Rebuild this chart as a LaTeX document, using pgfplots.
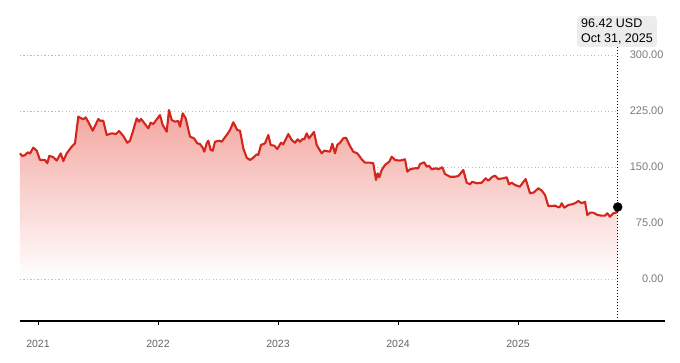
\documentclass[border=0pt]{standalone}
\usepackage{pgfplots}
\usepackage{pgfplotstable}
\pgfplotsset{compat=1.18}
\usepackage{fontspec}
\setmainfont{Liberation Sans}
\definecolor{linered}{RGB}{212,38,28}
\definecolor{filltop}{RGB}{243,166,160}
\definecolor{gridgray}{RGB}{185,185,185}
\definecolor{ticklab}{RGB}{100,100,100}
\definecolor{tipbg}{RGB}{236,236,236}
% x = months since Jan 2021
\pgfplotstableread{
x y
-1.80 168.3
-1.57 164.7
-1.30 166.0
-1.03 169.6
-0.80 168.0
-0.47 175.9
-0.13 171.9
0.20 159.4
0.70 159.4
0.93 155.0
1.13 165.0
1.53 163.0
1.87 158.5
2.27 168.3
2.53 158.0
2.87 168.3
3.37 177.2
3.70 181.7
4.03 217.4
4.53 213.8
4.77 216.5
5.10 208.5
5.47 198.6
5.70 204.9
6.03 214.3
6.20 212.0
6.53 212.0
6.87 192.9
7.37 195.1
7.80 194.2
8.10 198.2
8.53 191.5
8.93 182.5
9.20 185.2
9.53 199.5
9.87 215.2
10.10 210.7
10.30 214.3
10.70 207.6
11.03 201.8
11.27 209.3
11.53 207.6
11.77 212.0
12.20 219.6
12.47 206.2
12.87 197.3
13.10 226.3
13.37 212.9
13.70 210.7
14.03 211.6
14.20 204.0
14.47 221.9
14.77 215.2
15.20 190.6
15.60 188.4
15.93 181.7
16.20 180.8
16.47 175.9
16.63 170.5
16.87 181.7
17.03 185.2
17.27 172.8
17.47 171.9
17.70 183.9
18.10 185.2
18.37 183.9
18.87 192.9
19.20 199.5
19.53 209.9
19.93 199.5
20.20 198.6
20.53 175.0
20.87 162.5
21.20 159.4
21.53 162.5
21.87 167.0
22.03 166.1
22.30 179.5
22.70 181.7
23.03 192.9
23.27 179.5
23.63 178.5
23.93 174.1
24.30 182.5
24.53 180.4
25.03 194.2
25.37 186.2
25.70 182.5
25.97 187.1
26.20 183.9
26.47 187.5
26.63 187.1
26.87 195.1
27.10 188.4
27.60 196.9
27.87 179.5
28.37 168.3
28.63 171.9
29.20 170.5
29.43 181.2
29.70 168.3
29.93 179.5
30.20 182.5
30.53 188.4
30.80 189.2
31.20 178.1
31.53 170.5
31.93 168.3
32.37 160.3
32.70 155.8
33.20 155.8
33.53 155.0
33.80 132.6
33.97 141.5
34.13 136.2
34.37 146.0
34.70 152.7
35.13 157.1
35.37 163.8
35.70 159.4
36.20 158.5
36.70 160.3
36.93 143.7
37.20 146.9
37.70 148.3
38.03 148.3
38.20 154.0
38.63 156.3
38.87 150.4
39.10 151.7
39.37 146.9
39.80 148.3
40.03 147.0
40.43 149.6
40.70 140.6
41.20 137.0
41.70 137.0
42.03 137.9
42.53 146.0
42.87 129.0
43.20 126.8
43.43 130.3
43.87 128.2
44.37 129.0
44.77 134.9
45.03 131.6
45.37 136.2
45.70 138.4
46.03 133.9
46.53 134.9
46.87 136.2
47.10 126.8
47.37 129.0
47.70 125.9
48.20 123.6
48.43 128.2
48.77 133.9
49.20 114.8
49.60 116.0
50.03 121.5
50.37 118.4
50.70 112.5
51.03 97.8
51.37 97.8
51.70 98.2
52.03 96.0
52.20 96.8
52.37 101.4
52.63 95.5
53.03 99.1
53.37 100.0
53.70 101.4
54.03 104.5
54.37 101.4
54.70 103.5
54.93 85.7
55.20 88.8
55.53 88.8
55.97 85.7
56.37 84.8
56.70 84.8
56.93 88.0
57.20 83.4
57.53 88.0
57.80 88.8
57.97 96.42
}\pricedata
\begin{document}
\begin{tikzpicture}[x=1pt,y=1pt]
\useasboundingbox (0,0) rectangle (680,362);
\begin{axis}[
  at={(20pt,41pt)}, anchor=south west,
  scale only axis, width=645pt, height=266pt,
  xmin=-1.8, xmax=62.7, ymin=-56.25, ymax=300,
  clip=false,
  separate axis lines,
  axis x line*=bottom, axis y line*=right,
  x axis line style={-, black, line width=1.2pt},
  y axis line style={draw=none},
  xtick={0,12,24,36,48},
  xticklabels={2021,2022,2023,2024,2025},
  tick align=outside,
  major tick length=4pt,
  xtick style={black, line width=0.9pt},
  ytick={0,75,150,225,300},
  yticklabels={0.00,75.00,150.00,225.00,300.00},
  ytick style={draw=none},
  xticklabel style={font=\fontsize{10.5}{12}\selectfont, text=ticklab, yshift=-12pt},
  yticklabel style={font=\fontsize{11}{12}\selectfont, text=ticklab!85!white, anchor=east, xshift=-2pt},
  /pgf/number format/assume math mode=true,
]
% grid lines
\foreach \v in {0,75,150,225,300}{
  \edef\tmp{\noexpand\draw[gridgray, line width=0.8pt, dash pattern=on 1.3pt off 2.2pt] (axis cs:-1.8,\v) -- (axis cs:57.97,\v);}
  \tmp
}
% area fill
\addplot[draw=none, top color=filltop, bottom color=white] table[x=x,y=y]{\pricedata} \closedcycle;
% price line
\addplot[linered, line width=2.1pt, line join=round] table[x=x,y=y]{\pricedata};
% vertical marker line
\draw[black, line width=0.9pt, dash pattern=on 1.4pt off 1.6pt] (axis cs:57.97,-56.25) -- (axis cs:57.97,310.7);
% last point
\addplot[only marks, mark=*, mark size=4.5pt, black] coordinates {(57.97,96.42)};
% tooltip
\node[anchor=south west, fill=tipbg, rounded corners=3pt, inner xsep=4pt, inner ysep=3pt,
      align=left, font=\fontsize{12.5}{14.5}\selectfont, text=black]
  at (axis cs:53.9,310.7) {96.42 USD\\Oct 31, 2025};
\end{axis}
\end{tikzpicture}
\end{document}
